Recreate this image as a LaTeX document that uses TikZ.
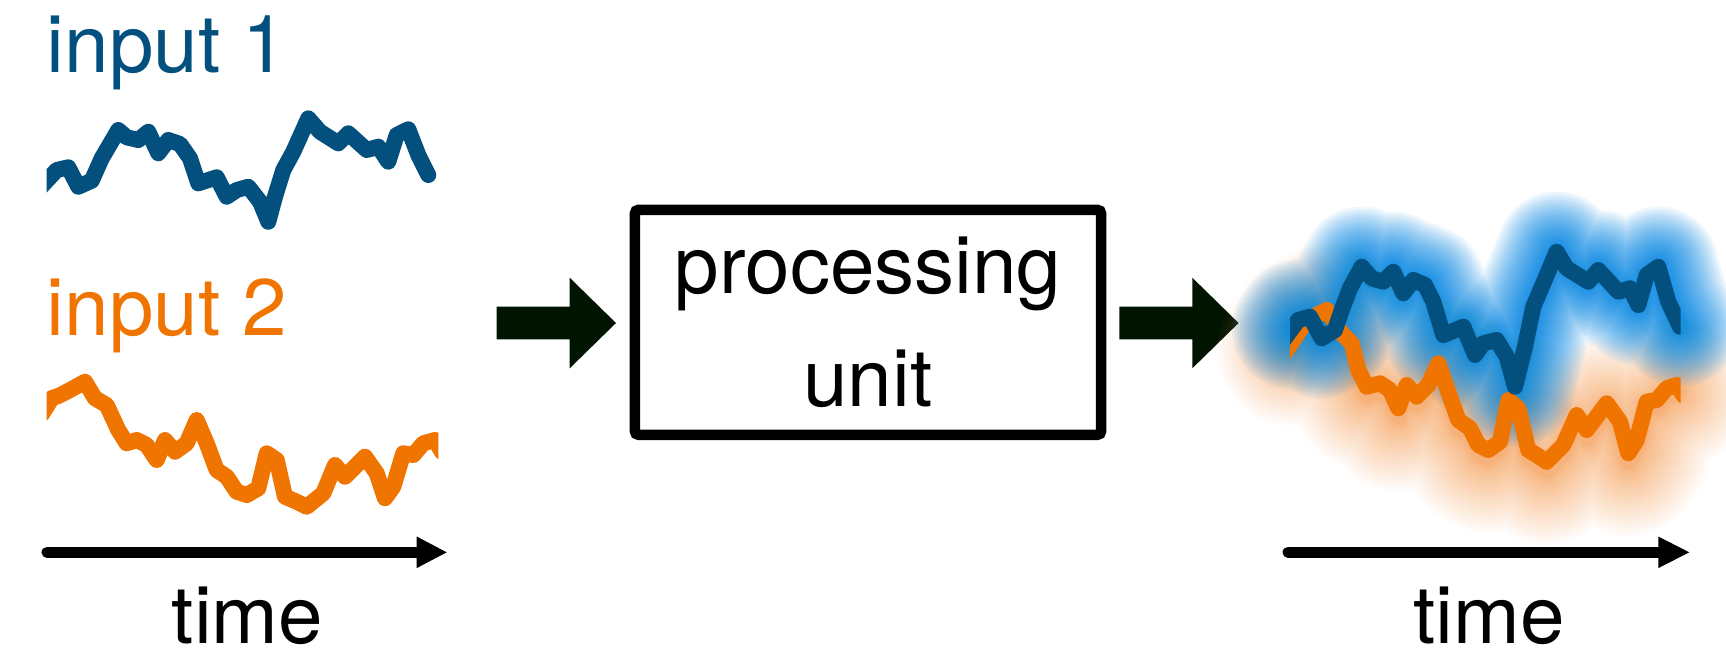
\documentclass[tikz,border=0pt]{standalone}
\usepackage{fontspec}
\setmainfont{TeX Gyre Heros}
\usetikzlibrary{calc}

\definecolor{inblue}{HTML}{03507F}
\definecolor{inorange}{HTML}{F07400}
\definecolor{glowblue}{HTML}{0A87E2}
\definecolor{gloworange}{HTML}{F28C38}
\definecolor{arrowfill}{HTML}{011400}

% input signals (left)
\def\blueL{(38,190) -- (56.7,170) -- (68.3,167.3) -- (78.3,186.7) -- (91.7,180.7) -- (101.7,158.3) -- (118.3,130) -- (126.7,137.3) -- (138.3,140) -- (148.3,131.7) -- (158.3,153.3) -- (168.3,140) -- (180,144) -- (190,158.3) -- (198.3,183.3) -- (216.7,177.3) -- (226.7,196.7) -- (236.7,190) -- (248.3,186.7) -- (260,201.7) -- (268.3,221.7) -- (275,196.7) -- (283.3,170) -- (293.3,151.7) -- (308.3,118.3) -- (320,131.7) -- (338.3,143.3) -- (348.3,133.3) -- (366.7,150) -- (378.3,146.7) -- (388.3,161.7) -- (396.7,135) -- (408.3,129.3) -- (418.3,155) -- (428.3,175)}
\def\orangeL{(42,414) -- (52,398) -- (58.3,396) -- (70,390) -- (85,381.7) -- (95,398.3) -- (106.7,405) -- (118.3,430) -- (126.7,443.3) -- (136.7,440) -- (146.7,445) -- (156.7,460) -- (165,440) -- (175,451.7) -- (186.7,443.3) -- (196.7,420) -- (206.7,443.3) -- (216.7,470) -- (226.7,476.7) -- (236.7,491.7) -- (246.7,495) -- (258.3,488.3) -- (266.7,453.3) -- (276.7,460) -- (285,496.7) -- (296.7,501.7) -- (306.7,506.7) -- (323.3,493.3) -- (335,465) -- (345,476.7) -- (365,456.7) -- (376.7,473.3) -- (385,498.3) -- (393.3,486.7) -- (403.3,453.3) -- (413.3,455) -- (423.3,443.3) -- (435,440) -- (442,452)}

% output signals (right)
\def\blueRbody{(1298.3,320) -- (1310,316.7) -- (1321.7,338.3) -- (1335,330) -- (1341.7,310) -- (1350,288.3) -- (1361.7,266.7) -- (1371.7,278.3) -- (1383.3,281.7) -- (1393.3,271.7) -- (1403.3,293.3) -- (1413.3,280) -- (1425,285) -- (1433.3,301.7) -- (1443.3,335) -- (1463.3,326.7) -- (1475,355) -- (1483.3,343.3) -- (1496.7,340) -- (1506.7,356.7) -- (1515,386.7) -- (1525,346.7) -- (1533.3,306.7) -- (1543.3,283.3) -- (1556.7,251.7) -- (1566.7,268.3) -- (1588.3,281.7) -- (1598.3,270) -- (1618.3,291.7) -- (1630,288.3) -- (1638.3,305) -- (1646.7,275) -- (1658.3,266.7) -- (1668.3,301.7) -- (1680,326.7)}
\def\orangeRbody{(1306.7,320) -- (1326.7,310) -- (1341.7,333.3) -- (1351.7,343.3) -- (1358.3,370) -- (1366.7,386.7) -- (1380,383.3) -- (1390,390) -- (1398.3,408.3) -- (1406.7,385) -- (1416.7,396.7) -- (1428.3,385) -- (1438.3,363.3) -- (1450,396.7) -- (1458.3,420) -- (1470,428.3) -- (1478.3,445) -- (1488.3,450) -- (1500,441.7) -- (1508.3,400) -- (1518.3,408.3) -- (1528.3,450) -- (1536.7,455) -- (1546.7,461.7) -- (1563.3,445) -- (1576.7,415) -- (1586.7,430) -- (1606.7,403.3) -- (1620,421.7) -- (1628.3,453.3) -- (1636.7,440) -- (1646.7,401.7) -- (1656.7,400) -- (1666.7,388.3) -- (1676.7,385)}

\tikzset{
  blockarrow/.pic={\fill[arrowfill] (0,-16.3) -- (73,-16.3) -- (73,-45.3) -- (119.3,0) -- (73,45.3) -- (73,16.3) -- (0,16.3) -- cycle;},
}

\begin{document}
\begin{tikzpicture}[x=0.01cm, y=-0.01cm,
  trace/.style={line width=0.16cm, line cap=round, line join=round},
  glow/.style={line cap=round, line join=round},
  lbl/.style={font=\fontsize{22.76pt}{31.87pt}\selectfont, inner sep=0pt},
  unitbox/.style={draw=black, line width=0.105cm, rounded corners=0.04cm,
    minimum width=4.662cm, minimum height=2.25cm, align=center, inner sep=0pt,
    font=\fontsize{22.76pt}{31.87pt}\selectfont},
  timeaxis/.style={line width=0.11cm, line cap=round},
]
\useasboundingbox (0,0) rectangle (1726,653);

% labels of the inputs
\node[lbl, text=inblue, anchor=base west] (in1) at (46,72.7) {input 1};
\node[lbl, text=inorange, anchor=base west] (in2) at (46,335) {input 2};

% input traces
\begin{scope}
  \clip (46.7,0) rectangle (438.3,653);
  \draw[trace, inblue] \blueL;
  \draw[trace, inorange] \orangeL;
\end{scope}

% processing unit
\node[unitbox] (proc) at (868,322.3) {processing\\unit};

% block arrows
\pic at (496.7,323) {blockarrow};
\pic at (1119.3,323) {blockarrow};

% soft glow around the output traces: stacked translucent strokes,
% packed densely near the trace and sparsely towards the rim
\begin{scope}[shift={(0,8)}]
  \foreach \k in {1,...,40}{
    \pgfmathsetmacro\w{14+136*(\k/40)^1.8}
    \draw[glow, gloworange, opacity=0.028, line width=\w*0.01cm] (1292,343) -- \orangeRbody;
  }
\end{scope}
\foreach \k in {1,...,36}{
  \pgfmathsetmacro\w{14+106*(\k/36)^1.8}
  \draw[glow, glowblue, opacity=0.07, line width=\w*0.01cm] (1292,329) -- \blueRbody;
}

% output traces
\begin{scope}
  \clip (1290,0) rectangle (1680.7,653);
  \draw[trace, inorange] (1280,360) -- \orangeRbody -- (1684,396);
  \draw[trace, inblue] (1282,342) -- \blueRbody;
\end{scope}

% time axes
\coordinate (tL0) at (47,552.3);
\coordinate (tL1) at (446.7,552.3);
\draw[timeaxis] (tL0) -- ($(tL1)+(-29,0)$);
\fill ($(tL1)+(-30,-15.8)$) -- (tL1) -- ($(tL1)+(-30,15.8)$) -- cycle;
\node[lbl, anchor=base] (timeL) at (247.5,643.3) {time};

\coordinate (tR0) at (1288,552.3);
\coordinate (tR1) at (1689.3,552.3);
\draw[timeaxis] (tR0) -- ($(tR1)+(-30,0)$);
\fill ($(tR1)+(-31,-15.8)$) -- (tR1) -- ($(tR1)+(-31,15.8)$) -- cycle;
\node[lbl, anchor=base] (timeR) at (1489,643) {time};
\end{tikzpicture}
\end{document}
